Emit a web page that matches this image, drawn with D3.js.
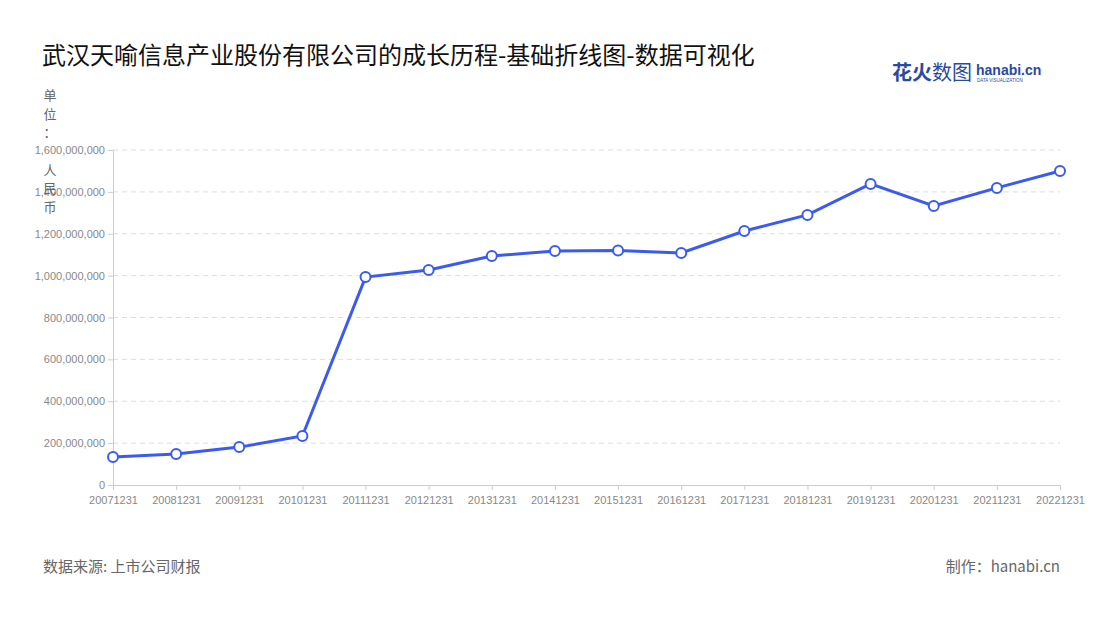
<!DOCTYPE html><html><head><meta charset="utf-8">
<script src="https://cdn.jsdelivr.net/npm/d3@7"></script>
<style>body{margin:0;background:#fff;font-family:"Noto Sans CJK SC","Noto Sans",sans-serif}</style></head><body>
<svg id="c" width="1100" height="620"></svg>
<script>
const categories=["20071231","20081231","20091231","20101231","20111231","20121231","20131231","20141231","20151231","20161231","20171231","20181231","20191231","20201231","20211231","20221231"];
const values=[134e6,148e6,181e6,234e6,993e6,1027e6,1094e6,1118e6,1120e6,1108e6,1213e6,1290e6,1438e6,1333e6,1419e6,1500e6];
const yTicks=[0,2e8,4e8,6e8,8e8,10e8,12e8,14e8,16e8];
const svg=d3.select("#c");
const L=113,R=1060,T=150,B=485;
const x=d3.scalePoint().domain(categories).range([L,R]);
const y=d3.scaleLinear().domain([0,1.6e9]).range([B,T]);
svg.append("text").attr("x",42).attr("y",64).attr("font-size",24).attr("fill","#111").text("武汉天喻信息产业股份有限公司的成长历程-基础折线图-数据可视化");
const lg=svg.append("g");
lg.append("text").attr("x",892).attr("y",80).attr("font-size",20).attr("font-weight","bold").attr("fill","#2a4aa0").text("花火");
lg.append("text").attr("x",932).attr("y",80).attr("font-size",20).attr("fill","#2a4aa0").text("数图");
lg.append("text").attr("x",976).attr("y",75).attr("font-size",14).attr("font-weight","bold").attr("fill","#2a4aa0").attr("font-family","Arial").text("hanabi.cn");
lg.append("text").attr("x",977).attr("y",82).attr("font-size",4.5).attr("fill","#2a4aa0").attr("font-family","Arial").text("DATA VISUALIZATION");
svg.append("g").selectAll("line").data(yTicks.slice(1)).join("line").attr("x1",L).attr("x2",R).attr("y1",d=>y(d)).attr("y2",d=>y(d)).attr("stroke","#ddd").attr("stroke-dasharray","5,4");
const ya=svg.append("g").attr("transform",`translate(${L},0)`).call(d3.axisLeft(y).tickValues(yTicks).tickFormat(d3.format(",")).tickSize(5));
ya.select(".domain").attr("stroke","#ccc");ya.selectAll("line").attr("stroke","#ccc");
ya.selectAll("text").attr("fill","#888").attr("font-size",11).attr("font-family","Arial");
const xa=svg.append("g").attr("transform",`translate(0,${B})`).call(d3.axisBottom(x).tickSize(5));
xa.select(".domain").attr("stroke","#ccc");xa.selectAll("line").attr("stroke","#ccc");
xa.selectAll("text").attr("fill","#888").attr("font-size",11).attr("font-family","Arial").attr("dy","1em");
["单","位","：","人","民","币"].forEach((c,i)=>svg.append("text").attr("x",50).attr("y",100+i*18.5+(i>=3?19:0)).attr("text-anchor","middle").attr("font-size",13).attr("fill","#666").text(c));
const line=d3.line().x((d,i)=>x(categories[i])).y(d=>y(d));
svg.append("path").attr("d",line(values)).attr("fill","none").attr("stroke","#3b5bf0").attr("stroke-width",3);
svg.append("g").selectAll("circle").data(values).join("circle").attr("cx",(d,i)=>x(categories[i])).attr("cy",d=>y(d)).attr("r",5).attr("fill","#fff").attr("stroke","#3b5bf0").attr("stroke-width",2);
svg.append("text").attr("x",43).attr("y",572).attr("font-size",15).attr("fill","#666").text("数据来源: 上市公司财报");
svg.append("text").attr("x",1060).attr("y",572).attr("text-anchor","end").attr("font-size",15).attr("fill","#666").text("制作：hanabi.cn");
</script></body></html>
